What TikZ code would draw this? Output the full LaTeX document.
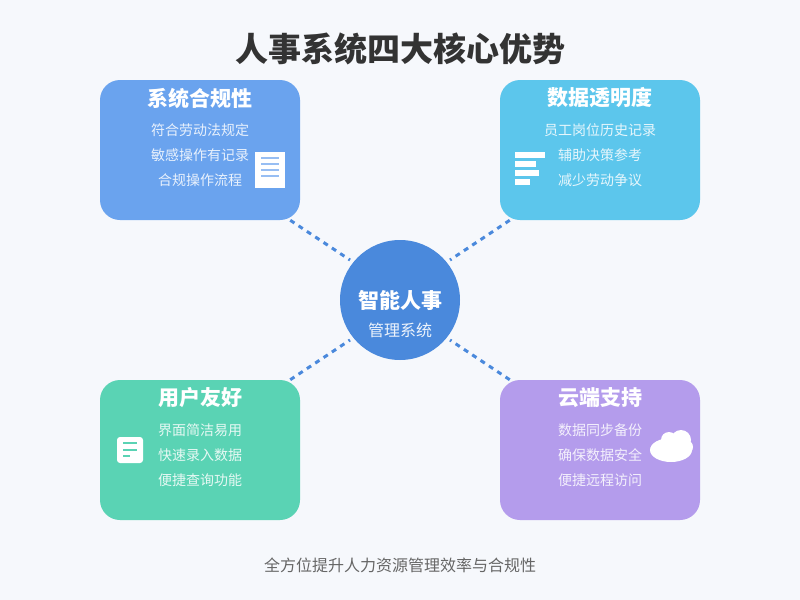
\documentclass[tikz,border=0pt]{standalone}
\usepackage{fontspec}
\setmainfont{Noto Sans CJK SC}
\usepackage{xcolor}
\usetikzlibrary{positioning,calc}
\definecolor{pagebg}{HTML}{F6F8FC}
\definecolor{hubblue}{HTML}{4A89DC}
\definecolor{comply}{HTML}{6AA3EE}
\definecolor{clear}{HTML}{5CC6EC}
\definecolor{friend}{HTML}{5AD3B4}
\definecolor{cloudy}{HTML}{B49CEC}
\definecolor{inktitle}{HTML}{333333}
\definecolor{inkfoot}{HTML}{666666}

\begin{document}
\begin{tikzpicture}[x=0.75pt,y=-0.75pt]
\tikzset{card/.style={rounded corners=15pt,minimum width=150pt,minimum height=105pt,inner sep=0pt},
 cardhead/.style={text=white,font=\fontsize{15.75}{18}\selectfont\bfseries,inner sep=0pt},
 carditem/.style={text=white,text opacity=0.85,align=center,font=\fontsize{10.5}{18.75}\selectfont,inner sep=0pt},
 link/.style={draw=hubblue,line width=2.25pt,dash pattern=on 3.75pt off 3.75pt},
 iconline/.style={line width=1.5pt}}
\fill[pagebg] (0,0) rectangle (800,600);
\node[font=\fontsize{24.75}{30}\selectfont\bfseries,text=inktitle,inner sep=0pt] (title) at (400,49) {人事系统四大核心优势};
% centre
\node[circle,fill=hubblue,minimum size=90pt,inner sep=0pt] (hub) at (400,300) {};
\node[cardhead] (hubhead) at (400,300) {智能人事};
\node[carditem,text opacity=0.9,font=\fontsize{12}{14}\selectfont] (hubsub) at (400,330) {管理系统};
% cards
\node[card,fill=comply] (complycard) at (200,150) {};
\node[card,fill=clear] (clearcard) at (600,150) {};
\node[card,fill=friend] (friendcard) at (200,450) {};
\node[card,fill=cloudy] (cloudcard) at (600,450) {};
\node[cardhead] (complyhead) at (200,98) {系统合规性};
\node[cardhead] (clearhead) at (600,98) {数据透明度};
\node[cardhead] (friendhead) at (200,398) {用户友好};
\node[cardhead] (cloudhead) at (600,398) {云端支持};
\node[carditem,below=11.25pt of complyhead] (complytext) {符合劳动法规定\\敏感操作有记录\\合规操作流程};
\node[carditem,below=11.25pt of clearhead] (cleartext) {员工岗位历史记录\\辅助决策参考\\减少劳动争议};
\node[carditem,below=11.25pt of friendhead] (friendtext) {界面简洁易用\\快速录入数据\\便捷查询功能};
\node[carditem,below=11.25pt of cloudhead] (cloudtext) {数据同步备份\\确保数据安全\\便捷远程访问};
% links
\draw[link] ($(complycard.south east)+(-10,0)$) -- ($(hub.center)+(-50,-40)$);
\draw[link] ($(clearcard.south west)+(10,0)$) -- ($(hub.center)+(50,-40)$);
\draw[link] ($(friendcard.north east)+(-10,0)$) -- ($(hub.center)+(-50,40)$);
\draw[link] ($(cloudcard.north west)+(10,0)$) -- ($(hub.center)+(50,40)$);
% icons
\fill[white] (255,152) rectangle (285,188);
\foreach \y in {158,164,170,176}
 \draw[comply!70!white,iconline] (261,\y) -- (279,\y);
\fill[white] (515,152) rectangle +(30,6);
\fill[white] (515,161) rectangle +(21,6);
\fill[white] (515,170) rectangle +(24,6);
\fill[white] (515,179) rectangle +(15,6);
\fill[white,rounded corners=2.25pt] (117,437) rectangle (143,463);
\draw[friend,line width=1.125pt] (123,443) -- (137,443);
\draw[friend,line width=1.125pt] (123,450) -- (137,450);
\draw[friend,line width=1.125pt] (123,456) -- (130,456);
\fill[white] (671,450) ellipse [x radius=21,y radius=12];
\fill[white] (669,440) circle [radius=8];
\fill[white] (681,440) circle [radius=10];
\fill[white] (686,447) circle [radius=7];
\node[font=\fontsize{12}{14}\selectfont,text=inkfoot,inner sep=0pt] (foot) at (400,565) {全方位提升人力资源管理效率与合规性};
\end{tikzpicture}
\end{document}
